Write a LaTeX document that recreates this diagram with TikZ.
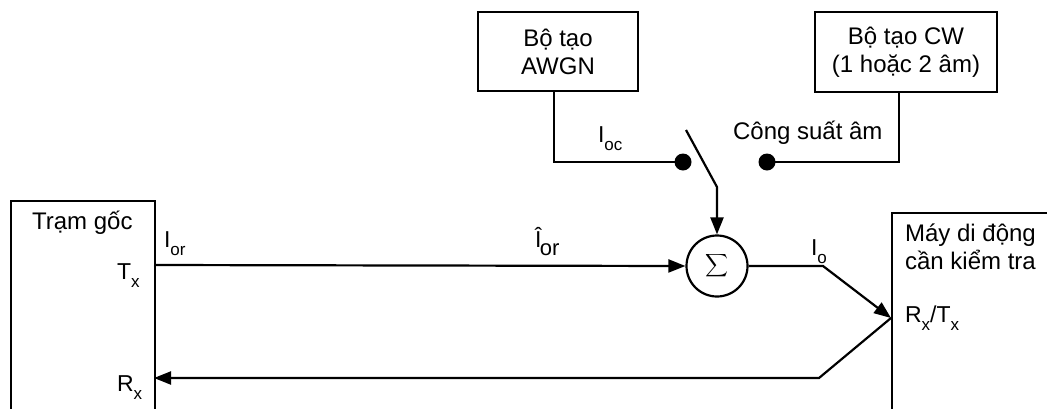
\documentclass[tikz,border=0pt]{standalone}
\usepackage{fontspec}
\setmainfont{Liberation Sans}
\usetikzlibrary{arrows.meta}
\newcommand\lowsub[1]{\raisebox{-8pt}{\fontsize{17}{17}\selectfont #1}}
\begin{document}
\begin{tikzpicture}[x=1pt,y=-1pt,line width=2.2pt,
  font=\fontsize{24}{28}\selectfont,
  blk/.style={draw,rectangle,inner sep=0pt,align=center},
  openbox/.style={draw,rectangle,inner sep=0pt,anchor=north west},
  lbl/.style={inner sep=0pt,anchor=base west},
  lblsmall/.style={inner sep=0pt,anchor=base west,font=\fontsize{23}{23}\selectfont},
  arr/.style={-{Triangle[length=17pt,width=13pt]}},
  dot/.style={circle,fill=black,inner sep=0pt,minimum size=17pt}]
\useasboundingbox (0,0) rectangle (1047,408);

% boxes
\node[blk,minimum width=160pt,minimum height=79pt] (awgn) at (558,51.5) {Bộ tạo\\AWGN};
\node[blk,minimum width=182pt,minimum height=80pt] (cw) at (906,52) {Bộ tạo CW\\(1 hoặc 2 âm)};
\node[openbox,minimum width=144pt,minimum height=230pt] (bs) at (10,200) {};
\node[openbox,minimum width=200pt,minimum height=230pt] (ms) at (891,212) {};
\node[draw,circle,inner sep=0pt,minimum size=61pt] (sum) at (717,266) {};
\node[inner sep=0pt] (sig) at (717,266) {\resizebox{23pt}{!}{$\displaystyle\sum$}};

% texts
\node[lbl] (bst) at (31,229) {Trạm gốc};
\node[lblsmall] (tx) at (116,279) {T\lowsub{x}};
\node[lblsmall] (rx) at (116,391) {R\lowsub{x}};
\node[lbl,align=left,anchor=north west] (mst) at (904,223) {Máy di động\\cần kiểm tra};
\node[lblsmall] (rxtx) at (904,322) {R\lowsub{x}/T\lowsub{x}};
\node[lblsmall] (ior) at (163,247) {I\lowsub{or}};
\node[lblsmall] (iorh) at (534,247) {Î\kern-1.5pt\raisebox{-8pt}{\fontsize{22}{22}\selectfont or}};
\node[lblsmall] (ioc) at (597,142) {I\lowsub{oc}};
\node[lblsmall] (io) at (810,255) {I\lowsub{o}};
\node[lbl] (cs) at (732,139) {Công suất âm};

% switch
\node[dot] (d1) at (683,162) {};
\node[dot] (d2) at (767,162) {};
\coordinate (sw1) at (686,130);
\coordinate (sw2) at (717,187);
\coordinate (awk) at (554,162);
\coordinate (cwk) at (899,162);
\coordinate (txp) at (154,265);
\coordinate (rxp) at (154,378);
\coordinate (msp) at (891,318);
\coordinate (k1) at (823,266);
\coordinate (k2) at (819,378);

\draw (awgn.south -| awk) -- (awk) -- (d1.center);
\draw (d2.center) -- (cwk) -- (cw.south -| cwk);
\draw[arr] (sw1) -- (sw2) -- (sum.north);
\draw[arr] (txp) -- (sum.west);
\draw[arr] (sum.east) -- (k1) -- (msp);
\draw[arr] (msp) -- (k2) -- (rxp);
\end{tikzpicture}
\end{document}
